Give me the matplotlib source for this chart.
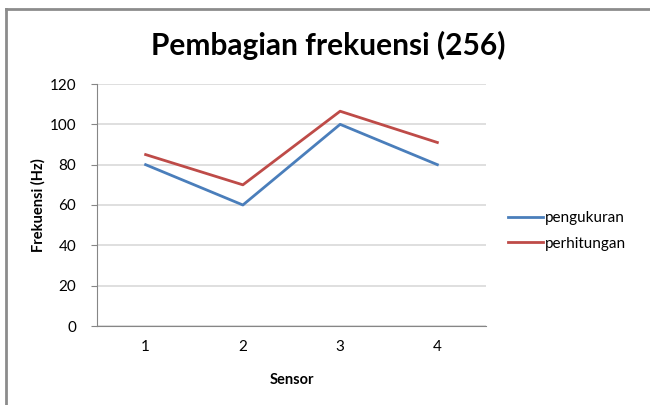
import numpy as np
import matplotlib.pyplot as plt
from matplotlib.lines import Line2D

# data
sensor = [1, 2, 3, 4]
pengukuran = [80, 60, 100, 80]
perhitungan = [85, 70, 106.5, 91]
y_ticks = [0, 20, 40, 60, 80, 100, 120]

plt.rcParams['font.family'] = ['Lato', 'DejaVu Sans']

W, H = 650, 405
fig = plt.figure(figsize=(W / 100, H / 100), dpi=100)

# plot area in pixels: x 97..486, y 84..326
ax = fig.add_axes([97 / W, 1 - 326 / H, (486 - 97) / W, (326 - 84) / H])

ax.plot(sensor, pengukuran, color='#4A7EBB', lw=2.0, label='pengukuran')
ax.plot(sensor, perhitungan, color='#BE4B48', lw=2.0, label='perhitungan')

ax.set_xlim(0.5, 4.5)
ax.set_ylim(0, 120)
ax.set_xticks(sensor)
ax.set_yticks(y_ticks)
ax.yaxis.grid(True, color='#D9D9D9', lw=1.2)
ax.set_axisbelow(True)

for s in ['top', 'right']:
    ax.spines[s].set_visible(False)
ax.spines['left'].set_color('#868686')
ax.spines['bottom'].set_color('#868686')
ax.tick_params(axis='y', length=4, color='#868686', labelsize=11, pad=11)
ax.tick_params(axis='x', length=0, labelsize=11, pad=10)

ax.set_xlabel('Sensor', fontsize=10.5, fontweight='bold', labelpad=14)
ax.set_ylabel('Frekuensi (Hz)', fontsize=10.5, fontweight='bold', labelpad=3)

fig.text(328 / W, 1 - 45 / H, 'Pembagian frekuensi (256)', ha='center', va='center',
         fontsize=21.5, fontweight='bold')

ax.legend(loc='center left', bbox_to_anchor=(503 / W, 1 - 231 / H),
          bbox_transform=fig.transFigure, frameon=False, fontsize=11,
          handlelength=2.3, handletextpad=0.15, labelspacing=0.75,
          borderaxespad=0, borderpad=0.3)

# outer chart border
fig.add_artist(Line2D([6 / W, 6 / W], [0, 1 - 9 / H], color='#8C8C8C', lw=2,
                      transform=fig.transFigure))
fig.add_artist(Line2D([6 / W, 1], [1 - 9 / H, 1 - 9 / H], color='#8C8C8C', lw=2,
                      transform=fig.transFigure))

fig.savefig('out.png', dpi=100)
